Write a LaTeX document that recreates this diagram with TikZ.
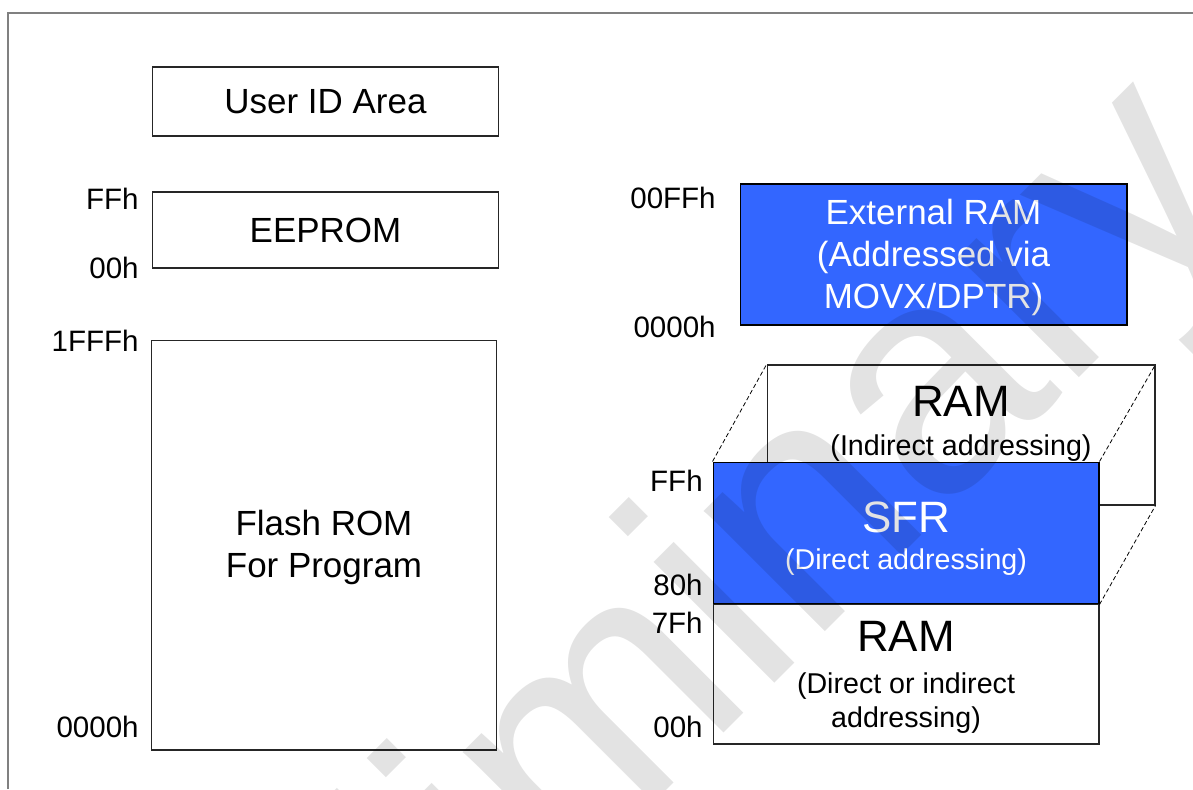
\documentclass[tikz,border=0pt]{standalone}
\usepackage{fontspec}
\setmainfont{Liberation Sans}
\definecolor{sfrblue}{HTML}{3366FF}
\definecolor{framegray}{HTML}{808080}
\begin{document}
\begin{tikzpicture}[x=0.02cm,y=-0.02cm,
  box/.style={draw=black!85, line width=0.6pt, fill=white, inner sep=0pt, align=center},
  bluebox/.style={box, draw=black, fill=sfrblue, text=white},
  title/.style={font=\fontsize{19.9}{23.9}\selectfont},
  big/.style={font=\fontsize{25}{28}\selectfont, inner sep=0pt},
  sub/.style={font=\fontsize{16.3}{19.5}\selectfont, inner sep=0pt, align=center},
  addr/.style={anchor=east, inner sep=0pt, font=\fontsize{16.8}{19}\selectfont},
  link/.style={line width=0.45pt, dash pattern=on 2.5pt off 1.5pt}]
\clip (0,0) rectangle (1193,789);
\fill[white] (0,0) rectangle (1193,789);
\draw[framegray, line width=0.9pt] (8,789) -- (8,13) -- (1193,13);
% left column
\node[box, title, minimum width=6.94cm, minimum height=1.38cm] (uid) at (325.5,101.5) {User ID Area};
\node[box, title, minimum width=6.94cm, minimum height=1.52cm] (eeprom) at (325.5,230) {EEPROM};
\node[box, minimum width=6.92cm, minimum height=8.2cm] (flash) at (324,545) {};
\node[title, inner sep=0pt, align=center] (flasht) at (324,547) {Flash ROM\\For Program};
\node[addr] (effh) at (139,199) {FFh};
\node[addr] (e00h) at (139,268) {00h};
\node[addr] (f1fff) at (139,341) {1FFFh};
\node[addr] (f0000) at (139,727) {0000h};
% right column
\node[bluebox, minimum width=7.74cm, minimum height=2.82cm] (ext) at (933.5,254.5) {};
\node[title, text=white, inner sep=0pt, align=center] (extt) at (933.5,257.5) {External RAM\\(Addressed via\\MOVX/DPTR)};
\node[addr] (x00ff) at (716,198) {00FFh};
\node[addr] (x0000) at (716,327) {0000h};
\node[box, minimum width=7.76cm, minimum height=2.8cm] (backram) at (961,435) {};
\node[big] (backramt) at (961,401) {RAM};
\node[sub] (backrams) at (961,448) {(Indirect addressing)};
\node[bluebox, minimum width=7.72cm, minimum height=2.84cm] (sfr) at (906,533) {};
\node[big, text=white] (sfrt) at (906,517) {SFR};
\node[sub, text=white] (sfrs) at (906,562) {(Direct addressing)};
\node[box, minimum width=7.72cm, minimum height=2.8cm] (ramlow) at (906,674) {};
\node[big] (ramlowt) at (906,636) {RAM};
\node[sub] (ramlows) at (906,703) {(Direct or indirect\\addressing)};
\draw[link] (sfr.north west) -- (backram.north west);
\draw[link] (sfr.north east) -- (backram.north east);
\draw[link] (sfr.south east) -- (backram.south east);
\node[addr] (sffh) at (703,481) {FFh};
\node[addr] (s80h) at (703,585) {80h};
\node[addr] (r7fh) at (703,623) {7Fh};
\node[addr] (r00h) at (703,727) {00h};
% watermark
\node[rotate=45, anchor=base, text=black, text opacity=0.11, inner sep=0pt,
  font=\fontsize{184}{200}\selectfont] (wm) at (683,774) {Preliminary};
\end{tikzpicture}
\end{document}
